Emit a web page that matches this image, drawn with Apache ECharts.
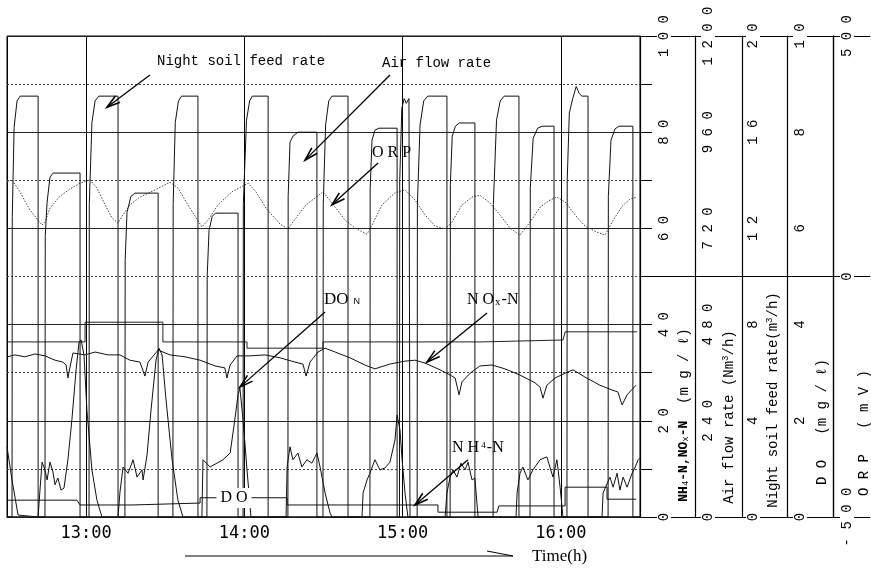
<!DOCTYPE html>
<html>
<head>
<meta charset="utf-8">
<script src="https://cdn.jsdelivr.net/npm/echarts@6/dist/echarts.min.js"></script>
<style>
  html, body { margin: 0; padding: 0; background: #fff; }
  #chart { width: 871px; height: 568px; }
</style>
</head>
<body>
<div id="chart"></div>
<script>
// time values are minutes after 12:00
const hourLabels = [13, 14, 15, 16]
const mainTicks = [0, 20, 40, 60, 80, 100]
const airTicks = [0, 240, 480, 720, 960, 1200]
const feedTicks = [0, 4, 8, 12, 16, 20]
const doTicks = [0, 2, 4, 6, 8, 10]
const orpTicks = [-500, 0, 500]

// night soil feed rate (m3/h)
const feedRate = [
  [30, 0], [31.9, 0], [32.0, 12.5], [32.7, 16.2], [33.8, 17.3], [35, 17.5], [41.8, 17.5], [41.8, 0],
  [61.1, 0], [61.2, 13], [62.2, 16.4], [63.4, 17.3], [64.8, 17.5], [72.1, 17.5], [72.1, 0],
  [92.9, 0], [93.0, 13], [93.8, 16.4], [95, 17.3], [96.2, 17.5], [102.4, 17.5], [102.4, 0],
  [119.5, 0], [119.6, 13], [120.8, 16.5], [122, 17.3], [123, 17.5], [129, 17.5], [129, 0],
  [149.8, 0], [149.9, 13], [150.8, 16.3], [152, 17.3], [153.2, 17.5], [159.3, 17.5], [159.3, 0],
  [178.8, 0], [178.9, 14], [179.7, 17.0], [180.6, 17.4], [181.4, 17.2], [182.4, 17.4], [182.8, 17.4], [182.8, 0],
  [185.5, 0], [185.6, 13], [186.6, 16.3], [188, 17.3], [189.5, 17.5], [196.8, 17.5], [196.8, 0],
  [214.3, 0], [214.4, 13], [215.6, 16.5], [217, 17.3], [218.5, 17.5], [224.1, 17.5], [224.1, 0],
  [242.3, 0], [242.4, 14], [243.2, 16.8], [244.5, 17.4], [245.8, 17.9], [247, 17.6], [248, 17.5], [250.3, 17.5], [250.3, 0],
  [270, 0]
]

// air flow rate (Nm3/h)
const airFlow = [
  [30, 0], [44.4, 0], [44.5, 700], [45.2, 785], [46.3, 848], [47.5, 858], [57.7, 858], [57.7, 0],
  [74.7, 0], [74.8, 640], [75.5, 760], [77.0, 800], [78.5, 808], [87.3, 808], [87.3, 0],
  [105.8, 0], [105.9, 600], [106.6, 715], [107.8, 750], [109, 758], [117.6, 758], [117.6, 0],
  [136.5, 0], [136.6, 800], [137.3, 935], [138.4, 950], [140.3, 960], [147.5, 960], [147.5, 0],
  [167.6, 0], [167.7, 820], [168.4, 940], [169.5, 965], [171, 970], [177.9, 970], [177.9, 0],
  [198, 0], [198.1, 830], [198.8, 950], [200, 975], [201.5, 983], [207.4, 983], [207.4, 0],
  [228.3, 0], [228.4, 820], [229.5, 945], [231.2, 970], [233, 975], [237.4, 975], [237.4, 0],
  [257.9, 0], [258, 800], [259, 940], [260.5, 968], [262, 975], [267.3, 975], [267.3, 0],
  [270, 0]
]

// ORP (mV)
const orp = [
  [30, 196], [31.9, 201], [34.9, 176], [38.7, 138], [43.3, 107], [44.4, 113], [46.3, 142], [50.1, 167],
  [53.9, 182], [57.7, 194], [61.5, 201], [64.1, 184], [67.2, 149], [69.8, 122], [72.1, 111], [73.6, 125],
  [76.6, 149], [80.4, 165], [86.1, 180], [91.8, 196], [94.8, 184], [98.6, 149], [103.9, 103], [106.2, 117],
  [110.0, 149], [115.3, 176], [121.4, 194], [124.4, 176], [128.2, 142], [133.5, 109], [136.5, 99], [139.6, 122],
  [143.4, 149], [147.2, 165], [149.8, 176], [153.2, 153], [158.2, 117], [161.9, 101], [166.5, 88], [168.4, 107],
  [172.2, 149], [177.1, 174], [180.9, 180], [184.7, 159], [188.5, 128], [192.3, 105], [196.1, 99], [198.7, 113],
  [202.5, 149], [206.3, 165], [209.3, 169], [213.1, 153], [216.9, 128], [220.7, 101], [224.5, 86], [228.3, 113],
  [232.1, 144], [235.9, 159], [238.5, 165], [241.6, 155], [245.4, 128], [249.1, 105], [253.7, 92], [256.7, 86],
  [259.4, 113], [263.2, 146], [266.2, 161], [268.9, 165]
]

// DO in the nitrification tank (mg/l)
const doN = [
  [30, 1.46], [31.9, 0.77], [34.2, 0.04], [34.9, 0], [41.8, 0], [42.5, 0.56], [43.3, 1.14], [44.4, 0.98],
  [45.2, 0.77], [46.3, 1.14], [47.4, 0.94], [48.2, 0.67], [49.3, 0.81], [50.5, 0.56], [51.6, 0.60], [53.1, 1.19],
  [54.6, 2.02], [56.2, 3.06], [57.3, 3.64], [58.1, 3.68], [59.2, 3.37], [60.3, 2.22], [62.2, 0.98], [64.1, 0.35],
  [66.0, 0], [72.1, 0], [72.8, 0.50], [74.0, 1.04], [75.9, 0.91], [77.8, 1.19], [79.3, 0.83], [81.2, 0.98],
  [81.6, 0.77], [83.1, 1.29], [84.6, 2.22], [86.5, 3.26], [87.6, 3.51], [88.8, 3.37], [90.3, 2.43], [92.6, 1.19],
  [94.8, 0.35], [96.7, 0], [103.9, 0], [104.3, 1.19], [107.0, 1.04], [109.6, 1.12], [111.9, 1.19], [114.6, 1.33],
  [116.1, 1.91], [117.6, 2.54], [118.3, 2.68], [119.5, 2.02], [121.0, 0.98], [122.5, 0], [135.8, 0], [136.2, 1.04],
  [137.3, 1.46], [138.4, 1.19], [140.3, 1.33], [141.8, 1.04], [143.7, 1.19], [145.6, 1.12], [146.8, 1.25], [147.5, 1.33],
  [148.7, 1.04], [150.6, 0.50], [152.5, 0.08], [153.2, 0], [164.6, 0], [165.0, 0.50], [166.5, 0.77], [167.6, 0.91],
  [169.5, 1.19], [171.4, 0.98], [173.3, 1.02], [175.2, 1.14], [177.1, 1.60], [177.9, 2.12], [179.0, 1.81], [179.8, 1.19],
  [180.9, 0.50], [182.0, 0], [196.1, 0], [196.8, 0.50], [198.0, 0.83], [199.1, 0.98], [200.6, 0.83], [202.1, 1.12],
  [203.7, 0.98], [204.8, 1.14], [206.3, 0.77], [207.4, 0.81], [208.6, 0], [223.0, 0], [223.4, 0.50], [224.5, 0.91],
  [225.6, 1.04], [227.5, 0.77], [229.4, 0.98], [232.1, 1.19], [234.7, 1.25], [237.0, 0.83], [238.5, 1.19], [239.7, 0.62],
  [240.8, 0], [255.6, 0], [256.0, 0.50], [258.6, 0.83], [259.8, 0.62], [261.3, 0.91], [262.4, 0.56], [263.6, 0.83],
  [265.1, 0.62], [267.0, 0.91], [268.2, 1.04], [269.3, 1.19], [270, 1.23]
]

// NOx-N (mg/l)
const noxN = [
  [30, 33.3], [33.0, 33.7], [36.8, 33.3], [40.6, 33.9], [44.4, 33.5], [48.2, 32.6], [51.2, 32.2], [52.4, 31.6],
  [53.1, 28.9], [53.9, 31.2], [55.0, 34.1], [59.6, 33.7], [63.4, 34.3], [68.3, 33.7], [72.8, 33.7], [76.6, 32.6],
  [80.4, 32.2], [82.3, 29.3], [83.5, 32.2], [87.3, 34.7], [91.8, 33.7], [97.5, 33.3], [103.2, 32.6], [108.9, 31.4],
  [112.6, 31.0], [113.4, 28.9], [114.6, 31.6], [117.2, 33.5], [122.1, 33.5], [127.8, 33.7], [133.5, 33.1], [139.2, 32.2],
  [142.2, 31.8], [143.4, 29.3], [144.9, 32.2], [147.9, 34.3], [150.6, 35.1], [154.4, 34.3], [160.0, 33.1], [165.7, 31.6],
  [169.5, 30.8], [175.2, 31.8], [180.9, 32.4], [184.7, 32.6], [188.5, 32.0], [194.2, 30.6], [198.7, 29.3], [199.9, 28.9],
  [201.4, 25.4], [202.5, 28.1], [205.6, 29.9], [209.3, 31.4], [213.9, 31.6], [218.8, 30.8], [224.5, 29.5], [230.2, 27.9],
  [232.1, 27.0], [233.2, 24.7], [234.7, 27.4], [237.8, 28.9], [241.6, 29.9], [244.6, 30.6], [249.1, 29.1], [254.8, 27.4],
  [259.4, 26.4], [261.6, 26.0], [263.2, 23.3], [265.1, 25.4], [268.5, 27.4]
]

// NH4-N (mg/l)
const nh4N = [
  [30, 3.5], [56.5, 3.5], [57.7, 2.5], [77.4, 2.5], [77.4, 2.9], [103.2, 2.9], [103.2, 4.0], [136.2, 4.0],
  [136.2, 2.5], [193.4, 2.5], [193.4, 1.0], [215.8, 1.0], [216.5, 2.3], [241.6, 2.3], [241.6, 6.2], [257.5, 6.2],
  [257.5, 3.7], [268.5, 3.7]
]

// stepped trace near 36 mg/l
const upperStep = [
  [30, 36.4], [59.6, 36.4], [59.6, 40.5], [89.1, 40.5], [89.1, 36.4], [121, 36.4], [121, 35.1], [149.8, 35.1],
  [149.8, 36.4], [210.1, 36.4], [210.1, 36.8], [240.8, 36.8], [241.6, 38.5], [268.9, 38.5]
]

const toHours = arr => arr.map(p => [12 + p[0] / 60, p[1]])
const monoFont = 'Liberation Mono'
const spaced = v => String(v).split('').join(' ')

function tickAxis(ticks, offset, len, inside) {
  return {
    type: 'value', position: 'right', offset: offset, z: 1,
    min: ticks[0], max: ticks[ticks.length - 1],
    interval: (ticks[ticks.length - 1] - ticks[0]) / 2,
    axisLine: { show: true, lineStyle: { color: '#000', width: 1.2 } },
    axisTick: { show: true, inside: inside !== false, length: len, lineStyle: { color: '#000', width: 1 } },
    axisLabel: { show: false },
    splitLine: { show: false }
  }
}

function labelAxis(ticks, offset, margin) {
  return {
    type: 'value', position: 'right', offset: offset, z: 3,
    min: ticks[0], max: ticks[ticks.length - 1],
    interval: ticks[1] - ticks[0],
    axisLine: { show: false },
    axisTick: { show: false },
    axisLabel: {
      show: true, rotate: 90, margin: margin, formatter: spaced,
      color: '#000', fontFamily: monoFont, fontSize: 14,
      backgroundColor: '#fff', padding: [0, 1]
    },
    splitLine: { show: false }
  }
}

const chart = echarts.init(document.getElementById('chart'))

const mainTickAxis = {
  type: 'value', position: 'right', offset: 0, z: 1,
  min: 0, max: 100, interval: 10,
  axisLine: { show: true, lineStyle: { color: '#000', width: 1.2 } },
  axisTick: { show: true, length: 12, lineStyle: { color: '#000' } },
  axisLabel: { show: false },
  splitLine: { show: true, lineStyle: { color: '#444', width: 1, type: [2, 2] } }
}
const mainLabelAxis = labelAxis(mainTicks, 0, 17)
mainLabelAxis.splitLine = { show: true, lineStyle: { color: '#222', width: 1 } }

const lineSeries = (name, data, yIdx, color, width, type) => ({
  name: name, type: 'line', data: toHours(data), yAxisIndex: yIdx,
  showSymbol: false, symbol: 'none', animation: false, clip: true,
  lineStyle: { color: color, width: width, type: type || 'solid' }
})

chart.setOption({
  animation: false,
  backgroundColor: '#fff',
  grid: { left: 7, top: 36, width: 633, height: 481, show: true, borderColor: '#000', borderWidth: 1 },
  xAxis: {
    type: 'value', min: 12.5, max: 16.5, splitNumber: 4,
    axisLine: { lineStyle: { color: '#000' } },
    axisTick: { show: false },
    axisLabel: {
      margin: 8, color: '#000', fontFamily: 'DejaVu Sans Mono', fontSize: 17,
      formatter: v => hourLabels.includes(v) ? v + ':00' : ''
    },
    splitLine: { show: true, lineStyle: { color: '#000', width: 1 } }
  },
  yAxis: [
    mainTickAxis, mainLabelAxis,
    tickAxis(airTicks, 55, 55), labelAxis(airTicks, 55, 6),
    tickAxis(feedTicks, 102, 47), labelAxis(feedTicks, 102, 4),
    tickAxis(doTicks, 147, 45), labelAxis(doTicks, 147, 6),
    tickAxis(orpTicks, 193, 46), labelAxis(orpTicks, 193, 7),
    tickAxis(orpTicks, 193, 37, false)
  ],
  series: [
    lineSeries('ORP', orp, 9, '#444', 1, [1.5, 1.5]),
    lineSeries('Upper step', upperStep, 1, '#222', 1),
    lineSeries('NH4-N', nh4N, 1, '#111', 1),
    lineSeries('NOx-N', noxN, 1, '#111', 1),
    lineSeries('DO N', doN, 7, '#111', 1),
    lineSeries('Air flow rate', airFlow, 3, '#111', 1),
    lineSeries('Night soil feed rate', feedRate, 5, '#111', 1)
  ]
})

// annotation arrows: [minute, value on the NH4/NOx scale]
const arrows = [
  { from: [84.2, 91.9], to: [67.9, 85.2] },
  { from: [175.2, 91.9], to: [143.0, 74.2] },
  { from: [170.7, 73.6], to: [153.2, 64.9] },
  { from: [150.6, 42.6], to: [118.3, 27.0] },
  { from: [212.0, 42.4], to: [189.2, 32.2] },
  { from: [204.8, 11.9], to: [184.7, 2.5] }
]
const px = p => chart.convertToPixel({ xAxisIndex: 0, yAxisIndex: 1 }, [12 + p[0] / 60, p[1]])

const graphics = []
arrows.forEach(a => {
  const s = px(a.from), e = px(a.to)
  const ang = Math.atan2(e[1] - s[1], e[0] - s[0])
  const L = 14, spread = 0.28
  const b1 = [e[0] - L * Math.cos(ang - spread), e[1] - L * Math.sin(ang - spread)]
  const b2 = [e[0] - L * Math.cos(ang + spread), e[1] - L * Math.sin(ang + spread)]
  graphics.push({ type: 'line', shape: { x1: s[0], y1: s[1], x2: e[0], y2: e[1] }, style: { stroke: '#000', lineWidth: 1.3 }, z: 10 })
  graphics.push({ type: 'polyline', shape: { points: [b1, e, b2] }, style: { stroke: '#000', lineWidth: 1.6, fill: null }, z: 10 })
})

const textEl = (x, y, text, font, extra) => Object.assign({
  type: 'text', x: x, y: y, z: 11,
  style: Object.assign({ text: text, font: font, fill: '#000', textAlign: 'left', textVerticalAlign: 'middle' }, extra || {})
})

graphics.push(textEl(157, 61, 'Night soil feed rate', '14px "Liberation Mono"'))
graphics.push(textEl(382, 63, 'Air flow rate', '14px "Liberation Mono"'))
graphics.push(textEl(372, 153, 'O R P', '16px "Liberation Serif"'))
graphics.push(textEl(324, 300, '{a|DO}{s|  N}', '', { rich: { a: { font: '17px "Liberation Serif"' }, s: { font: '9px "Liberation Sans"', padding: [4, 0, 0, 0] } } }))
graphics.push(textEl(467, 300, '{a|N O}{s|x}{a|-N}', '', { rich: { a: { font: '16px "Liberation Serif"' }, s: { font: '11px "Liberation Serif"', padding: [4, 1, 0, 1] } } }))
graphics.push(textEl(452, 448, '{a|N H}{s| 4}{a|-N}', '', { rich: { a: { font: '16px "Liberation Serif"' }, s: { font: '9px "Liberation Serif"', padding: [0, 1, 4, 0] } } }))
graphics.push(textEl(234, 498, 'D O', '16px "Liberation Serif"', { textAlign: 'center', backgroundColor: '#fff', padding: [2, 4] }))

// time arrow and label
graphics.push({ type: 'line', shape: { x1: 185, y1: 556, x2: 513, y2: 556 }, style: { stroke: '#000', lineWidth: 1 } })
graphics.push({ type: 'line', shape: { x1: 487, y1: 551, x2: 513, y2: 556 }, style: { stroke: '#000', lineWidth: 1 } })
graphics.push(textEl(532, 557, 'Time(h)', '17px "Liberation Serif"'))

// rotated axis names
const axisName = (x, y, text, rich) => ({
  type: 'text', x: x, y: y, rotation: Math.PI / 2, z: 11,
  style: { text: text, rich: rich, fill: '#000', textAlign: 'center', textVerticalAlign: 'middle', font: '14px "Liberation Mono"' }
})
const nameRich = {
  a: { font: '14px "Liberation Mono"' },
  b: { font: 'bold 13px "Liberation Mono"' },
  s: { font: '9px "Liberation Mono"', padding: [4, 0, 0, 0] },
  u: { font: '9px "Liberation Mono"', padding: [0, 0, 6, 0] }
}
graphics.push(axisName(684, 415, '{b|NH}{s|4}{b|-N,NO}{s|x}{b|-N}{a|  (m g / ℓ)}', nameRich))
graphics.push(axisName(729, 417, '{a|Air flow rate (Nm}{u|3}{a|/h)}', nameRich))
graphics.push(axisName(773, 400, '{a|Night soil feed rate(m}{u|3}{a|/h)}', nameRich))
graphics.push(axisName(822, 422, '{a|D O   (m g / ℓ)}', nameRich))
graphics.push(axisName(864, 433, '{a|O R P   ( m V )}', nameRich))

chart.setOption({ graphic: graphics })
</script>
</body>
</html>
